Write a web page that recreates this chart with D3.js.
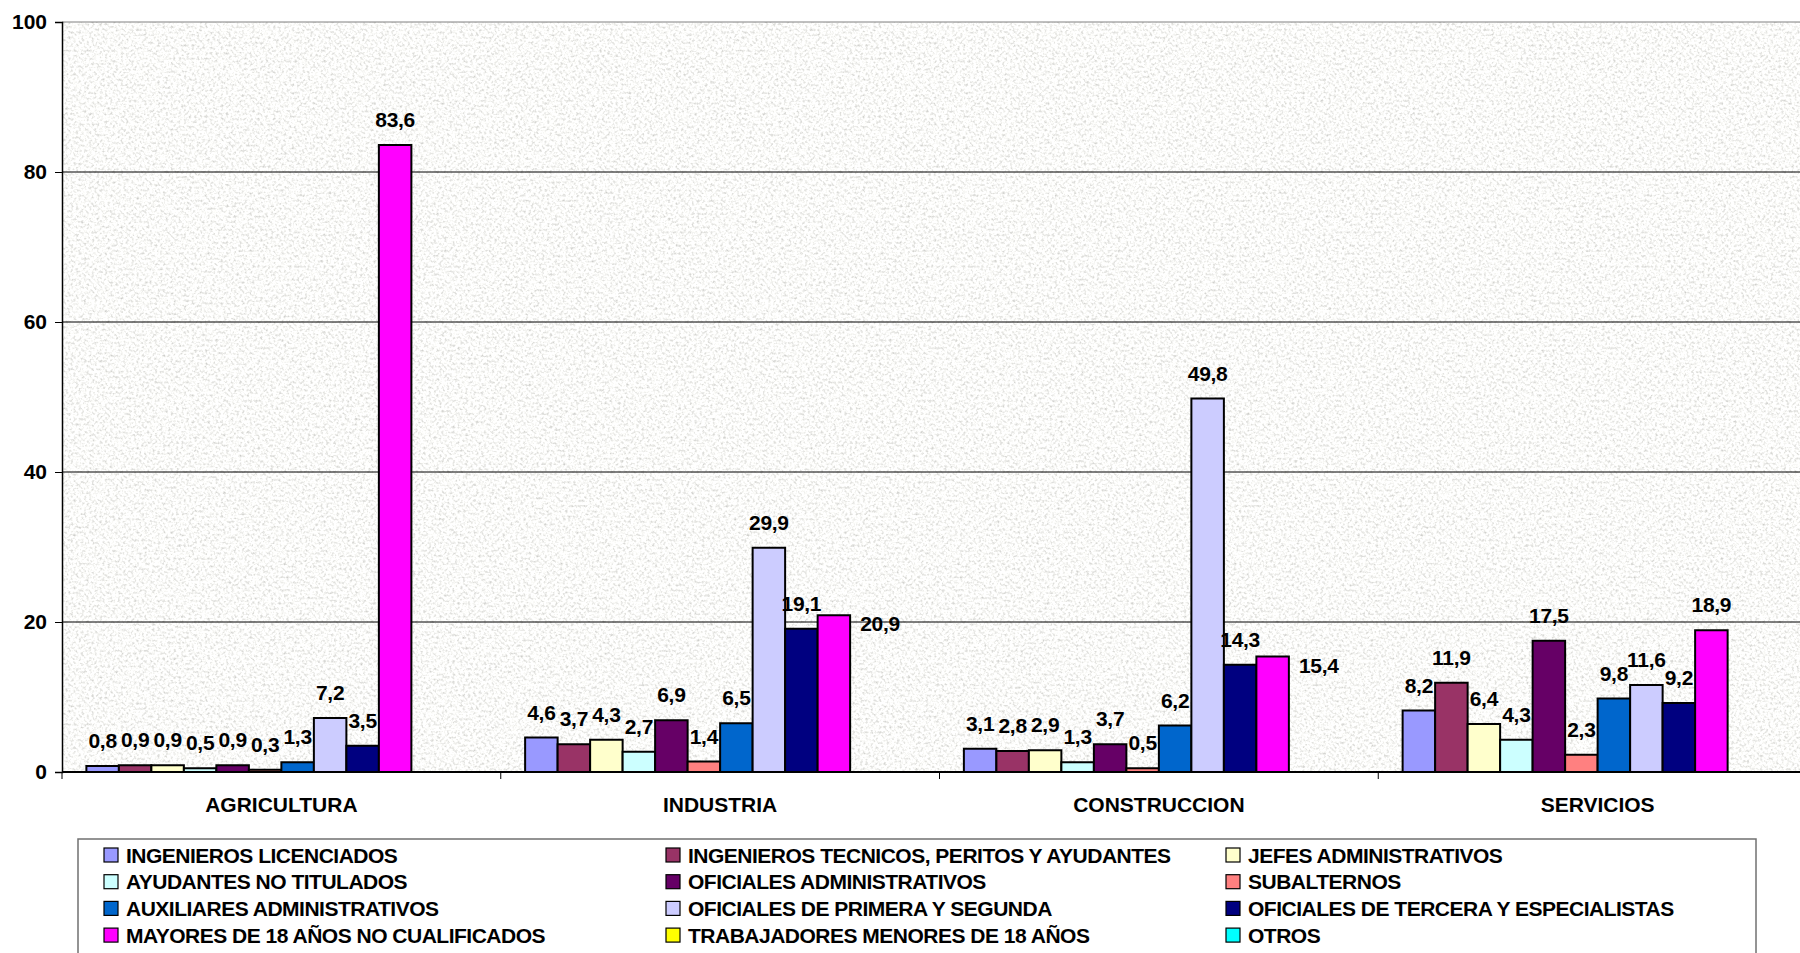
<!DOCTYPE html>
<html>
<head>
<meta charset="utf-8">
<script src="https://cdn.jsdelivr.net/npm/d3@7"></script>
<style>
  body { margin: 0; background: #fff; }
  svg { display: block; font-family: "Liberation Sans", Arial, sans-serif; font-weight: bold; }
</style>
</head>
<body>
<svg id="chart" width="1800" height="953"></svg>
<script>
// categories
var sectors = ['AGRICULTURA', 'INDUSTRIA', 'CONSTRUCCION', 'SERVICIOS']

// series names (legend order)
var groups = [
  'INGENIEROS LICENCIADOS',
  'INGENIEROS TECNICOS, PERITOS Y AYUDANTES',
  'JEFES ADMINISTRATIVOS',
  'AYUDANTES NO TITULADOS',
  'OFICIALES ADMINISTRATIVOS',
  'SUBALTERNOS',
  'AUXILIARES ADMINISTRATIVOS',
  'OFICIALES DE PRIMERA Y SEGUNDA',
  'OFICIALES DE TERCERA Y ESPECIALISTAS',
  'MAYORES DE 18 AÑOS NO CUALIFICADOS',
  'TRABAJADORES MENORES DE 18 AÑOS',
  'OTROS'
]

// values per sector, one entry per series
var agricultura  = [0.8, 0.9, 0.9, 0.5, 0.9, 0.3, 1.3, 7.2, 3.5, 83.6, 0, 0]
var industria    = [4.6, 3.7, 4.3, 2.7, 6.9, 1.4, 6.5, 29.9, 19.1, 20.9, 0, 0]
var construccion = [3.1, 2.8, 2.9, 1.3, 3.7, 0.5, 6.2, 49.8, 14.3, 15.4, 0, 0]
var servicios    = [8.2, 11.9, 6.4, 4.3, 17.5, 2.3, 9.8, 11.6, 9.2, 18.9, 0, 0]

var yTicks = [0, 20, 40, 60, 80, 100]

var colors = ['#9999FF', '#993366', '#FFFFCC', '#CCFFFF', '#660066', '#FF8080',
              '#0066CC', '#CCCCFF', '#000080', '#FF00FF', '#FFFF00', '#00FFFF']

var table = [agricultura, industria, construccion, servicios]

var plot = { left: 62, top: 22, right: 1817, bottom: 772 }

var svg = d3.select('#chart')

// granite-like background texture
var defs = svg.append('defs')
var f = defs.append('filter').attr('id', 'granite')
    .attr('x', 0).attr('y', 0).attr('width', 1).attr('height', 1)
f.append('feTurbulence')
    .attr('type', 'fractalNoise')
    .attr('baseFrequency', 0.38)
    .attr('numOctaves', 2)
    .attr('seed', 7)
f.append('feColorMatrix')
    .attr('type', 'matrix')
    .attr('values', '0.9 0 0 0 0.52  0.9 0 0 0 0.52  0.9 0 0 0 0.5  0 0 0 0 1')

svg.append('rect')
    .attr('x', plot.left).attr('y', plot.top)
    .attr('width', plot.right - plot.left).attr('height', plot.bottom - plot.top)
    .attr('fill', '#ebebeb')
    .attr('filter', 'url(#granite)')

var x = d3.scaleBand()
    .domain(sectors)
    .range([plot.left, plot.right])

var barW = x.bandwidth() / 13.5
var xs = d3.scaleBand()
    .domain(d3.range(groups.length))
    .range([0.75 * barW, x.bandwidth() - 0.75 * barW])

var y = d3.scaleLinear()
    .domain([0, 100])
    .range([plot.bottom, plot.top])

// gridlines
svg.append('g')
  .selectAll('line')
    .data(yTicks.slice(1))
  .enter().append('line')
    .attr('x1', plot.left).attr('x2', plot.right)
    .attr('y1', function(d) { return y(d) }).attr('y2', function(d) { return y(d) })
    .attr('stroke', function(d) { return d == 100 ? '#808080' : '#000' })
    .attr('stroke-width', 1)

// bars
var groupsG = svg.selectAll('.sector')
    .data(table)
  .enter().append('g')
    .attr('class', 'sector')
    .attr('transform', function(d, i) { return `translate(${x(sectors[i])},0)` })

groupsG.selectAll('rect')
    .data(function(d) { return d.map(function(v, j) { return { v: v, j: j } }).filter(function(e) { return e.v > 0 }) })
  .enter().append('rect')
    .attr('x', function(d) { return xs(d.j) })
    .attr('y', function(d) { return y(d.v) })
    .attr('width', xs.bandwidth())
    .attr('height', function(d) { return y(0) - y(d.v) })
    .attr('fill', function(d) { return colors[d.j] })
    .attr('stroke', '#000')
    .attr('stroke-width', 2)

// axes
var yAxis = d3.axisLeft(y).tickValues(yTicks).tickSize(7).tickPadding(8).tickFormat(d3.format('d'))
var gy = svg.append('g')
    .attr('transform', `translate(${plot.left},0)`)
    .call(yAxis)
gy.select('.domain').attr('stroke', '#000').attr('stroke-width', 1.5)
gy.selectAll('.tick line').attr('stroke', '#000')
gy.selectAll('.tick text')
    .attr('font-family', '"Liberation Sans", Arial, sans-serif')
    .attr('font-weight', 'bold')
    .attr('font-size', 21)
    .attr('fill', '#000')

svg.append('line')
    .attr('x1', plot.left).attr('x2', plot.right)
    .attr('y1', y(0)).attr('y2', y(0))
    .attr('stroke', '#000').attr('stroke-width', 2)

svg.append('g')
  .selectAll('line')
    .data(sectors)
  .enter().append('line')
    .attr('x1', function(d) { return x(d) }).attr('x2', function(d) { return x(d) })
    .attr('y1', y(0)).attr('y2', y(0) + 7)
    .attr('stroke', '#000')

svg.append('g')
  .selectAll('text')
    .data(sectors)
  .enter().append('text')
    .attr('x', function(d) { return x(d) + x.bandwidth() / 2 })
    .attr('y', 812)
    .attr('text-anchor', 'middle')
    .attr('font-size', 21)
    .text(function(d) { return d })

// data labels: above the bar; on collision the last bar's label goes to its right,
// other labels are pushed up
var fmt = function(v) { return String(v.toFixed(1)).replace('.', ',') }
var labelG = svg.append('g')
table.forEach(function(vals, i) {
  var placed = []
  var lastJ = d3.max(vals.map(function(v, j) { return v > 0 ? j : -1 }))
  var boxAt = function(cx, base, w) { return { x0: cx - w / 2 + 2, x1: cx + w / 2 - 2, y0: base - 16, y1: base + 2 } }
  var hits = function(box) {
    return placed.some(function(b) { return b.x0 < box.x1 && box.x0 < b.x1 && b.y0 < box.y1 && box.y0 < b.y1 })
  }
  vals.forEach(function(v, j) {
    if (!(v > 0)) return
    var txt = labelG.append('text')
        .attr('font-size', 21)
        .attr('letter-spacing', -0.3)
        .attr('text-anchor', 'middle')
        .text(fmt(v))
    var w = txt.node().getComputedTextLength()
    var cx = x(sectors[i]) + xs(j) + xs.bandwidth() / 2
    var top = y(v)
    var base = top - 18
    var box = boxAt(cx, base, w)
    if (hits(box)) {
      if (j == lastJ) {
        cx = x(sectors[i]) + xs(j) + xs.bandwidth() + 10 + w / 2
        base = top + 16
        box = boxAt(cx, base, w)
      } else {
        while (hits(box)) { base -= 4; box = boxAt(cx, base, w) }
      }
    }
    placed.push(box)
    txt.attr('x', cx).attr('y', base)
  })
})

// legend
var legend = svg.append('g')
legend.append('rect')
    .attr('x', 78).attr('y', 839)
    .attr('width', 1678).attr('height', 140)
    .attr('fill', '#fff')
    .attr('stroke', '#707070')
    .attr('stroke-width', 1.5)

var colX = [104, 666, 1226]
var items = legend.selectAll('.item')
    .data(groups)
  .enter().append('g')
    .attr('class', 'item')
    .attr('transform', function(d, i) { return `translate(${colX[i % 3]}, ${855 + Math.floor(i / 3) * 26.7})` })

items.append('rect')
    .attr('x', 0).attr('y', -7)
    .attr('width', 14).attr('height', 14)
    .attr('fill', function(d, i) { return colors[i] })
    .attr('stroke', '#000')
    .attr('stroke-width', 1.2)

items.append('text')
    .attr('x', 22)
    .attr('y', 7.5)
    .attr('font-size', 21)
    .attr('letter-spacing', -0.5)
    .text(function(d) { return d })
</script>
</body>
</html>
